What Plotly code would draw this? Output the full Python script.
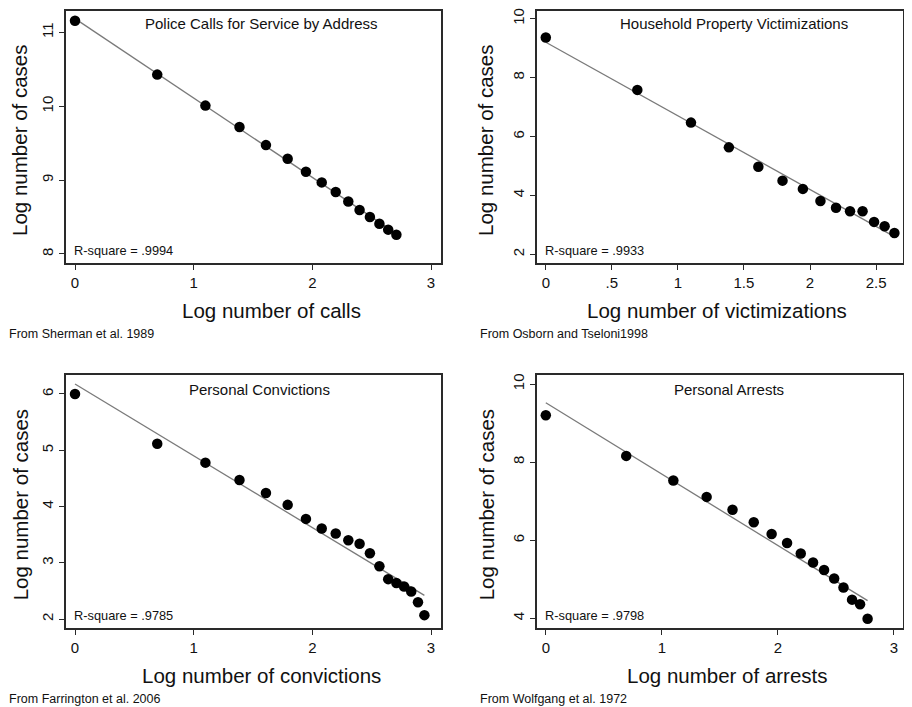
import numpy as np
import plotly.graph_objects as go

# ---------------- data ----------------
x_calls = [0, 0.693, 1.099, 1.386, 1.609, 1.792, 1.946, 2.079, 2.197, 2.303, 2.398, 2.485, 2.565, 2.639, 2.708]
y_calls = [11.16, 10.43, 10.01, 9.72, 9.475, 9.29, 9.115, 8.97, 8.84, 8.71, 8.595, 8.50, 8.41, 8.33, 8.26]

x_vict = [0, 0.693, 1.099, 1.386, 1.609, 1.792, 1.946, 2.079, 2.197, 2.303, 2.398, 2.485, 2.565, 2.639]
y_vict = [9.36, 7.58, 6.47, 5.63, 4.97, 4.50, 4.22, 3.81, 3.58, 3.46, 3.46, 3.10, 2.95, 2.72]

x_conv = [0, 0.693, 1.099, 1.386, 1.609, 1.792, 1.946, 2.079, 2.197, 2.303, 2.398, 2.485, 2.565,
          2.639, 2.708, 2.773, 2.833, 2.890, 2.944]
y_conv = [6.00, 5.115, 4.78, 4.47, 4.24, 4.03, 3.78, 3.61, 3.52, 3.40, 3.34, 3.17, 2.94,
          2.71, 2.64, 2.58, 2.49, 2.30, 2.07]

x_arr = [0, 0.693, 1.099, 1.386, 1.609, 1.792, 1.946, 2.079, 2.197, 2.303, 2.398, 2.485, 2.565,
         2.639, 2.708, 2.773]
y_arr = [9.20, 8.16, 7.53, 7.11, 6.78, 6.46, 6.16, 5.93, 5.66, 5.43, 5.24, 5.02, 4.79,
         4.48, 4.36, 3.99]

titles = ["Police Calls for Service by Address", "Household Property Victimizations",
          "Personal Convictions", "Personal Arrests"]
xtitles = ["Log number of calls", "Log number of victimizations",
           "Log number of convictions", "Log number of arrests"]
rsq = ["R-square = .9994", "R-square = .9933", "R-square = .9785", "R-square = .9798"]
sources = ["From Sherman et al. 1989", "From Osborn and Tseloni1998",
           "From Farrington et al. 2006", "From Wolfgang et al. 1972"]

xtick_vals = [[0, 1, 2, 3], [0, 0.5, 1, 1.5, 2, 2.5], [0, 1, 2, 3], [0, 1, 2, 3]]
xtick_text = [["0", "1", "2", "3"], ["0", ".5", "1", "1.5", "2", "2.5"],
              ["0", "1", "2", "3"], ["0", "1", "2", "3"]]
ytick_vals = [[8, 9, 10, 11], [2, 4, 6, 8, 10], [2, 3, 4, 5, 6], [4, 6, 8, 10]]

series = [(x_calls, y_calls), (x_vict, y_vict), (x_conv, y_conv), (x_arr, y_arr)]

# ---------------- layout geometry ----------------
# page body has an 8px margin, so the figure is drawn offset by 8px
OFF = 8
W, H = 904, 699
FONT = "Liberation Sans, Arial, Helvetica, sans-serif"
INK = "#111111"
FRAME = "#2a2a2a"

boxes_screen = [  # left, top, right, bottom (screen px)
    (66, 8, 441, 261),
    (537, 8, 903, 261),
    (66, 373.3, 441, 627.7),
    (537, 373.3, 903, 627.7),
]
boxes = [tuple(v - OFF for v in bx) for bx in boxes_screen]
xranges = [(-0.0758, 3.084), (-0.0666, 2.704), (-0.0758, 3.084), (-0.0758, 3.078)]
yranges = [(7.879, 11.292), (1.707, 10.259), (1.841, 6.342), (3.753, 10.238)]
title_top = [13, 13, 15, 15]
title_cx = [261, 734, 259, 729]        # screen px centre of in-plot titles
xtitle_cx = [271.5, 717, 261, 727]     # screen px centre of x-axis titles

fig = go.Figure()
annotations = []

for i, ((xs, ys), (l, t, r, b)) in enumerate(zip(series, boxes)):
    n = "" if i == 0 else str(i + 1)
    xa, ya = "x" + n, "y" + n
    # fit line
    xs_a, ys_a = np.array(xs), np.array(ys)
    slope, icpt = np.polyfit(xs_a, ys_a, 1)
    xl = np.array([xs_a.min(), xs_a.max()])
    fig.add_trace(go.Scatter(x=xl, y=icpt + slope * xl, mode="lines",
                             line=dict(color="#7a7a7a", width=1.3),
                             xaxis=xa, yaxis=ya, showlegend=False, hoverinfo="skip"))
    fig.add_trace(go.Scatter(x=xs, y=ys, mode="markers", cliponaxis=False,
                             marker=dict(color="#000000", size=10.5, line=dict(width=0)),
                             xaxis=xa, yaxis=ya, showlegend=False))

    axcommon = dict(showgrid=False, zeroline=False, showline=True, mirror=True,
                    linecolor=FRAME, linewidth=1.5, ticks="outside", ticklen=5,
                    tickwidth=1.2, tickcolor=FRAME, ticklabeloverflow="allow",
                    tickfont=dict(family=FONT, size=15, color=INK))
    fig.layout["xaxis" + n] = dict(domain=[max(l / W, 0), min(r / W, 1)], range=list(xranges[i]),
                                   anchor=ya, tickvals=xtick_vals[i], ticktext=xtick_text[i],
                                   **axcommon)
    fig.layout["yaxis" + n] = dict(domain=[max(1 - b / H, 0), min(1 - t / H, 1)],
                                   range=list(yranges[i]),
                                   anchor=xa, tickvals=ytick_vals[i], tickangle=-90,
                                   **axcommon)

    # in-plot title
    annotations.append(dict(text=titles[i], xref="paper", yref="paper",
                            x=(title_cx[i] - OFF) / W, y=1 - (t + title_top[i]) / H,
                            xanchor="center", yanchor="middle", showarrow=False,
                            font=dict(family=FONT, size=15, color=INK)))
    # R-square
    annotations.append(dict(text=rsq[i], xref="paper", yref="paper",
                            x=(l + 6) / W, y=1 - (b - 12.5) / H,
                            xanchor="left", yanchor="middle", showarrow=False,
                            font=dict(family=FONT, size=12.8, color=INK)))
    # x axis title
    annotations.append(dict(text=xtitles[i], xref="paper", yref="paper",
                            x=(xtitle_cx[i] - OFF) / W, y=1 - (b + 47.5) / H,
                            xanchor="center", yanchor="middle", showarrow=False,
                            font=dict(family=FONT, size=20.5, color=INK)))
    # y axis title
    annotations.append(dict(text="Log number of cases", xref="paper", yref="paper",
                            x=max(l - 51, 12) / W, y=1 - ((t + b) / 2 + 4) / H, textangle=-90,
                            xanchor="center", yanchor="middle", showarrow=False,
                            font=dict(family=FONT, size=20.5, color=INK)))
    # source
    annotations.append(dict(text=sources[i], xref="paper", yref="paper",
                            x=(l - 59) / W, y=1 - (b + 71) / H,
                            xanchor="left", yanchor="middle", showarrow=False,
                            font=dict(family=FONT, size=12.5, color=INK)))

fig.update_layout(width=W, height=H, margin=dict(l=0, r=0, t=0, b=0),
                  paper_bgcolor="white", plot_bgcolor="white",
                  annotations=annotations, showlegend=False)

fig.write_html("out.html")
